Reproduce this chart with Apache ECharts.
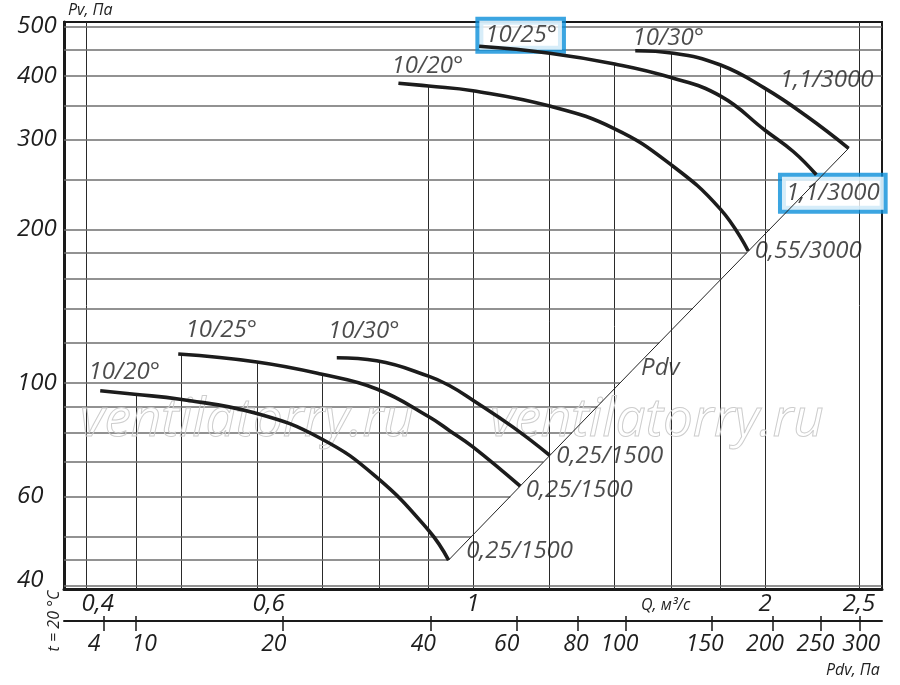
<!DOCTYPE html>
<html><head><meta charset="utf-8">
<script src="https://cdn.jsdelivr.net/npm/echarts@6/dist/echarts.min.js"></script>
<style>html,body{margin:0;padding:0;background:#fff}#c{width:900px;height:685px}</style>
</head><body><div id="c"></div>
<script>
// ---------- axis ranges & ticks ----------
const X_MIN = 0.379, X_MAX = 2.64;       // Q, m3/s (log)
const Y_MIN = 39.5, Y_MAX = 510;         // Pv, Pa (log)
const PDV_MIN = 7.155, PDV_MAX = 333.8;  // Pdv, Pa (log)
const qTicks = [0.4, 0.6, 1, 2, 2.5];
const pvTicks = [40, 60, 100, 200, 300, 400, 500];
const qGrid = [0.4, 0.45, 0.5, 0.6, 0.7, 0.8, 0.9, 1, 1.2, 1.4, 1.6, 1.8, 2, 2.5];
const pvGrid = [40, 45, 50, 60, 70, 80, 90, 100, 120, 140, 160, 180, 200, 250, 300, 350, 400, 450, 500];
const pdvTickValues = [8.64, 10, 20, 40, 60, 80, 100, 150, 200, 250, 300];
const pdvTickLabels = ['4', '10', '20', '40', '60', '80', '100', '150', '200', '250', '300'];

// ---------- fan curves (Q, Pv) ----------
const up20Q = [0.838, 0.9, 1.0, 1.2, 1.4, 1.6, 1.8, 1.922];
const up20Pv = [387, 382, 374, 349, 315, 268, 219, 181.5];
const up25Q = [1.015, 1.2, 1.4, 1.6, 1.8, 2.0, 2.14, 2.259];
const up25Pv = [457, 443, 422, 397, 365, 313, 284, 256];
const up30Q = [1.47, 1.61, 1.8, 2.0, 2.21, 2.439];
const up30Pv = [448, 443, 420, 378, 333, 288.5];
const lo20Q = [0.413, 0.448, 0.499, 0.599, 0.697, 0.795, 0.9, 0.944];
const lo20Pv = [96.6, 95.1, 93.0, 87.2, 77.9, 65.5, 51.5, 45.0];
const lo25Q = [0.497, 0.599, 0.697, 0.796, 0.9, 0.947, 1.0, 1.119];
const lo25Pv = [114, 110, 104.2, 97.4, 86, 80.6, 75, 62.8];
const lo30Q = [0.724, 0.796, 0.9, 0.9475, 1.0, 1.1, 1.2];
const lo30Pv = [112.1, 110.6, 103.2, 98.7, 92.6, 82, 72.2];
// dynamic pressure line
const pdvLineQ = [0.944, 1.46, 2.439];
const pdvLinePv = [45.0, 106, 288.5];

const curves = [[up20Q, up20Pv], [up25Q, up25Pv], [up30Q, up30Pv], [lo20Q, lo20Pv], [lo25Q, lo25Pv], [lo30Q, lo30Pv]];

// label text, curve arrays, point index (-1 = last), offset, boxed
const labelItems = [
  ['10/20°', up20Q, up20Pv, 0, [29, -17], false],
  ['10/25°', up25Q, up25Pv, 0, [41.5, -11], true],
  ['10/30°', up30Q, up30Pv, 0, [33, -13], false],
  ['1,1/3000', up30Q, up30Pv, -1, [-22, -68], false],
  ['1,1/3000', up25Q, up25Pv, -1, [16.5, 18.5], true],
  ['0,55/3000', up20Q, up20Pv, -1, [60, 0], false],
  ['10/20°', lo20Q, lo20Pv, 0, [24, -19], false],
  ['10/25°', lo25Q, lo25Pv, 0, [43, -24], false],
  ['10/30°', lo30Q, lo30Pv, 0, [27, -27], false],
  ['0,25/1500', lo30Q, lo30Pv, -1, [60, 1], false],
  ['0,25/1500', lo25Q, lo25Pv, -1, [59, 4], false],
  ['0,25/1500', lo20Q, lo20Pv, -1, [71, -9], false],
  ['Pdv', pdvLineQ, pdvLinePv, 1, [28, -2], false]
];
// horizontal nudge (px) of each Pdv tick label relative to its tick (style only)
const pdvLabelNudge = [-10, 9, -9, -7, -10, -2, -6, -7, -8, -5, 2];

// ---------- helpers ----------
function interpLogLog(xs, ys, x) {
  if (x < xs[0] - 1e-9 || x > xs[xs.length - 1] + 1e-9) return null;
  for (let i = 0; i < xs.length - 1; i++) {
    if (x >= xs[i] - 1e-9 && x <= xs[i + 1] + 1e-9) {
      const t = (Math.log(x) - Math.log(xs[i])) / (Math.log(xs[i + 1]) - Math.log(xs[i]));
      return Math.exp(Math.log(ys[i]) + t * (Math.log(ys[i + 1]) - Math.log(ys[i])));
    }
  }
  return null;
}
function gridTop(q) {
  let top = null;
  curves.forEach(([qs, ps]) => {
    const v = interpLogLog(qs, ps, q);
    if (v !== null && (top === null || v > top)) top = v;
  });
  return top === null ? Y_MAX : top;
}
function gridRight(pv) {
  const q = interpLogLog(pdvLinePv, pdvLineQ, pv);
  return q === null ? X_MAX : q;
}
function nearestIdx(arr, v) {
  let best = 0, bd = Infinity;
  arr.forEach((t, i) => { const d = Math.abs(Math.log(t) - Math.log(v)); if (d < bd) { bd = d; best = i; } });
  return best;
}

const FONT = '"Open Sans", "Noto Sans", "DejaVu Sans", sans-serif';
const TXT = { fontFamily: FONT, fontStyle: 'italic', fontSize: 24, color: '#1e1e1e' };
const PDV_TXT = Object.assign({}, TXT, { fontSize: 23 });

const pdvRich = {};
pdvLabelNudge.forEach((n, i) => {
  pdvRich['n' + i] = Object.assign({ padding: n >= 0 ? [0, 0, 0, 2 * n] : [0, -2 * n, 0, 0] }, PDV_TXT);
});

const series = [];
series.push({
  type: 'lines', coordinateSystem: 'cartesian2d', polyline: false, silent: true, z: 1,
  lineStyle: { color: '#2a2a2a', width: 1, opacity: 1 },
  data: qGrid.map(q => ({ coords: [[q, Y_MIN], [q, gridTop(q)]] }))
});
series.push({
  type: 'lines', coordinateSystem: 'cartesian2d', polyline: false, silent: true, z: 1,
  lineStyle: { color: '#6e6e6e', width: 1.5, opacity: 1 },
  data: pvGrid.map(p => ({ coords: [[X_MIN, p], [gridRight(p), p]] }))
});
curves.forEach(([qs, ps]) => {
  series.push({
    type: 'line', silent: true, z: 4, smooth: 0.45, symbol: 'none', showSymbol: false,
    lineStyle: { color: '#1c1c1c', width: 3.6 },
    data: qs.map((q, i) => [q, ps[i]])
  });
});
series.push({
  type: 'line', silent: true, z: 4, symbol: 'none', showSymbol: false,
  lineStyle: { color: '#222', width: 1 },
  data: pdvLineQ.map((q, i) => [q, pdvLinePv[i]])
});
series.push({
  type: 'scatter', silent: true, z: 3, symbolSize: 1,
  itemStyle: { color: 'rgba(0,0,0,0)' },
  data: labelItems.map(([text, qs, ps, idx, off, boxed]) => {
    const i = idx < 0 ? qs.length + idx : idx;
    const label = Object.assign({
      show: true, position: 'inside', offset: off, formatter: text, lineHeight: 26
    }, TXT);
    if (boxed) Object.assign(label, {
      borderColor: '#0a8ed9', borderWidth: 4, backgroundColor: '#fff',
      padding: text === '10/25°' ? [2, 5, 1, 6] : [4, 4, 3, 4]
    });
    return { value: [qs[i], ps[i]], label };
  })
});

const pdvAxisBase = {
  type: 'log', gridIndex: 0, position: 'bottom', offset: 32, min: PDV_MIN, max: PDV_MAX,
  splitLine: { show: false }, minorTick: { show: false }
};

const chart = echarts.init(document.getElementById('c'), null, { renderer: 'canvas' });
chart.setOption({
  animation: false,
  backgroundColor: '#fff',
  grid: { left: 64, right: 18, top: 22, bottom: 96, show: true, borderColor: '#1a1a1a', borderWidth: 2, containLabel: false, outerBoundsMode: 'none' },
  xAxis: [
    {
      type: 'log', min: X_MIN, max: X_MAX,
      axisLine: { show: true, onZero: false, lineStyle: { color: '#1a1a1a', width: 3 } },
      axisTick: { show: false }, splitLine: { show: false }, minorTick: { show: false },
      axisLabel: Object.assign({
        customValues: qTicks, margin: 3, hideOverlap: false,
        formatter: v => {
          const s = String(+(+v).toFixed(2)).replace('.', ',');
          return v < 0.7 ? '{p|' + s + '}' : s;
        },
        rich: { p: Object.assign({ padding: [0, 0, 0, 22] }, TXT) }
      }, TXT)
    },
    Object.assign({}, pdvAxisBase, {
      axisLine: { show: true, onZero: false, lineStyle: { color: '#1a1a1a', width: 2 } },
      axisTick: { show: true, customValues: pdvTickValues, length: 10, lineStyle: { color: '#1a1a1a', width: 1.5 } },
      axisLabel: Object.assign({
        customValues: pdvTickValues, margin: 12, hideOverlap: false, showMaxLabel: true, showMinLabel: true,
        formatter: v => { const i = nearestIdx(pdvTickValues, v); return '{n' + i + '|' + pdvTickLabels[i] + '}'; },
        rich: pdvRich
      }, PDV_TXT)
    }),
    Object.assign({}, pdvAxisBase, {
      axisLine: { show: false, onZero: false },
      axisTick: { show: true, inside: true, customValues: pdvTickValues, length: 5, lineStyle: { color: '#1a1a1a', width: 1.5 } },
      axisLabel: { show: false }
    })
  ],
  yAxis: [{
    type: 'log', min: Y_MIN, max: Y_MAX,
    axisLine: { show: true, onZero: false, lineStyle: { color: '#1a1a1a', width: 3 } },
    axisTick: { show: false }, splitLine: { show: false }, minorTick: { show: false },
    axisLabel: Object.assign({
      customValues: pvTicks, align: 'left', margin: 47, hideOverlap: false,
      formatter: v => { const s = String(Math.round(v)); return s === '40' ? '{b|40}' : s; },
      rich: { b: Object.assign({ padding: [0, 0, 13, 0] }, TXT) }
    }, TXT)
  }],
  graphic: [
    { type: 'text', x: 68, y: 10, silent: true, style: { text: 'Pv, Па', font: 'italic 16px ' + FONT, fill: '#222', verticalAlign: 'middle' } },
    { type: 'text', x: 641, y: 605, silent: true, style: { text: 'Q, м³/с', font: 'italic 16px ' + FONT, fill: '#222', verticalAlign: 'middle' } },
    { type: 'text', x: 826, y: 670, silent: true, style: { text: 'Pdv, Па', font: 'italic 16px ' + FONT, fill: '#222', verticalAlign: 'middle' } },
    { type: 'text', x: 54, y: 621, rotation: Math.PI / 2, silent: true, style: { text: 't = 20 °C', font: 'italic 16px ' + FONT, fill: '#222', align: 'center', verticalAlign: 'middle' } },
    { type: 'text', x: 80, y: 421, z: 2, silent: true, style: { text: 'ventilatorry.ru', font: 'italic 53px ' + FONT, fill: 'rgba(0,0,0,0)', stroke: '#cdcdcd', lineWidth: 1, verticalAlign: 'middle' } },
    { type: 'text', x: 490, y: 421, z: 2, silent: true, style: { text: 'ventilatorry.ru', font: 'italic 53px ' + FONT, fill: 'rgba(0,0,0,0)', stroke: '#cdcdcd', lineWidth: 1, verticalAlign: 'middle' } }
  ],
  series
});
</script>
</body></html>
